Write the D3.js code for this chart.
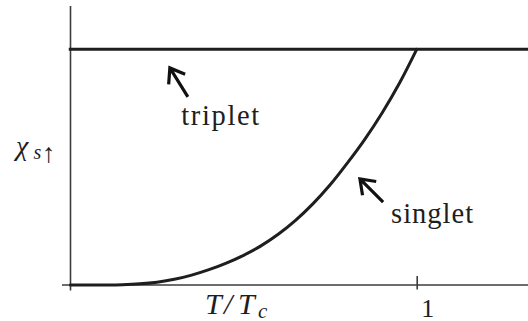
<!DOCTYPE html>
<html>
<head>
<meta charset="utf-8">
<script src="https://cdn.jsdelivr.net/npm/d3@7"></script>
<style>
  html, body { margin: 0; padding: 0; background: #fff; }
  svg { display: block; }
  svg text { font-family: "Liberation Serif", "Tinos", "Noto Serif", "DejaVu Serif", "Times New Roman", Times, serif; }
</style>
</head>
<body>
<script>
// Reduced temperature T/Tc
const tValues = [0, 0.1, 0.15, 0.2, 0.25, 0.3, 0.35, 0.4, 0.45, 0.5, 0.55, 0.6, 0.65, 0.7, 0.75, 0.8, 0.85, 0.9, 0.95, 1.0];
// Singlet spin susceptibility (normalised to the normal-state value)
const singletChi = [0, 0.0003, 0.0015, 0.005, 0.012, 0.024, 0.042, 0.065, 0.093, 0.126, 0.166, 0.215, 0.274, 0.344, 0.425, 0.518, 0.618, 0.730, 0.856, 1.0];
// Triplet susceptibility stays at the normal-state value
const tripletT = [-0.005, 1.33];
const tripletChi = [1, 1];
// Axis ticks
const xTickValues = [1];
const xTickLabels = ["1"];

const W = 528, H = 321;
const svg = d3.select("body").append("svg").attr("width", W).attr("height", H);

const x = d3.scaleLinear().domain([0, 1]).range([70.5, 416.7]);
const y = d3.scaleLinear().domain([0, 1]).range([285, 49.3]);

const axisColor = "#3c3c3c";
const ink = "#1e1e1e";

// y axis line
svg.append("line")
  .attr("x1", x(0)).attr("x2", x(0))
  .attr("y1", 6).attr("y2", 290.5)
  .attr("stroke", axisColor).attr("stroke-width", 1.6);

// x axis with its single tick at T = Tc
const xAxis = d3.axisBottom(x)
  .tickValues(xTickValues)
  .tickFormat((d, i) => xTickLabels[i])
  .tickSizeInner(4.5)
  .tickSizeOuter(0);

const gx = svg.append("g")
  .attr("transform", `translate(0,${y(0)})`)
  .call(xAxis);
gx.attr("font-family", null);
gx.select(".domain").remove();
gx.selectAll(".tick line")
  .attr("y1", -9)
  .attr("stroke", axisColor)
  .attr("stroke-width", 1.6);
gx.selectAll(".tick text")
  .attr("fill", ink)
  .attr("font-size", 26)
  .attr("dx", 10.5)
  .attr("y", 31.5)
  .attr("dy", 0);

svg.append("line")
  .attr("x1", 62).attr("x2", W)
  .attr("y1", y(0)).attr("y2", y(0))
  .attr("stroke", axisColor).attr("stroke-width", 1.6);

// curves
const line = d3.line()
  .x(d => x(d[0]))
  .y(d => y(d[1]))
  .curve(d3.curveCatmullRom.alpha(0.5));

svg.append("path")
  .datum(tripletT.map((t, i) => [t, tripletChi[i]]))
  .attr("d", line)
  .attr("fill", "none")
  .attr("stroke", ink)
  .attr("stroke-width", 3);

svg.append("path")
  .datum(tValues.map((t, i) => [t, singletChi[i]]))
  .attr("d", line)
  .attr("fill", "none")
  .attr("stroke", ink)
  .attr("stroke-width", 3)
  .attr("stroke-linecap", "round");

// annotation arrows and labels
const notes = [
  { text: "triplet", tip: [0.287, 0.921], tail: [0.339, 0.798], at: [0.320, 0.679], width: 78 },
  { text: "singlet", tip: [0.836, 0.450], tail: [0.903, 0.352], at: [0.926, 0.263], width: 82 }
];

function arrowPath(n) {
  const tx = x(n.tip[0]), ty = y(n.tip[1]);
  const bx = x(n.tail[0]), by = y(n.tail[1]);
  const len = Math.hypot(bx - tx, by - ty);
  const ux = (bx - tx) / len, uy = (by - ty) / len;
  const a = 36 * Math.PI / 180, h = 16.5;
  const r = (s) => [tx + h * (ux * Math.cos(s * a) - uy * Math.sin(s * a)),
                    ty + h * (ux * Math.sin(s * a) + uy * Math.cos(s * a))];
  const p1 = r(1), p2 = r(-1);
  return `M${bx},${by}L${tx},${ty}M${p1[0]},${p1[1]}L${tx},${ty}L${p2[0]},${p2[1]}`;
}

svg.selectAll("path.arrow")
  .data(notes)
  .join("path")
  .attr("class", "arrow")
  .attr("d", arrowPath)
  .attr("fill", "none")
  .attr("stroke", "#111")
  .attr("stroke-width", 3.2)
  .attr("stroke-linejoin", "miter");

svg.selectAll("text.note")
  .data(notes)
  .join("text")
  .attr("class", "note")
  .attr("x", d => x(d.at[0]))
  .attr("y", d => y(d.at[1]))
  .attr("textLength", d => d.width)
  .attr("lengthAdjust", "spacing")
  .attr("font-size", 28.5)
  .attr("fill", ink)
  .text(d => d.text);

// y axis label: chi_{s up}
const yl = svg.append("text")
  .attr("x", 16).attr("y", 155)
  .attr("fill", ink);
yl.append("tspan").attr("font-style", "italic").attr("font-size", 28).text("χ");
yl.append("tspan").attr("x", 33.5).attr("dy", 4).attr("font-style", "italic").attr("font-size", 20).text("s");
yl.append("tspan").attr("x", 42).attr("dy", 2.5).attr("font-size", 27).text("↑");

// x axis label: T/T_c
const xl = svg.append("text")
  .attr("y", 313.5)
  .attr("font-style", "italic")
  .attr("fill", ink);
xl.append("tspan").attr("x", 205).attr("font-size", 30).text("T");
xl.append("tspan").attr("x", 224).attr("font-size", 30).text("/");
xl.append("tspan").attr("x", 238).attr("font-size", 30).text("T");
xl.append("tspan").attr("x", 258).attr("font-size", 21).attr("dy", 4).text("c");
</script>
</body>
</html>
